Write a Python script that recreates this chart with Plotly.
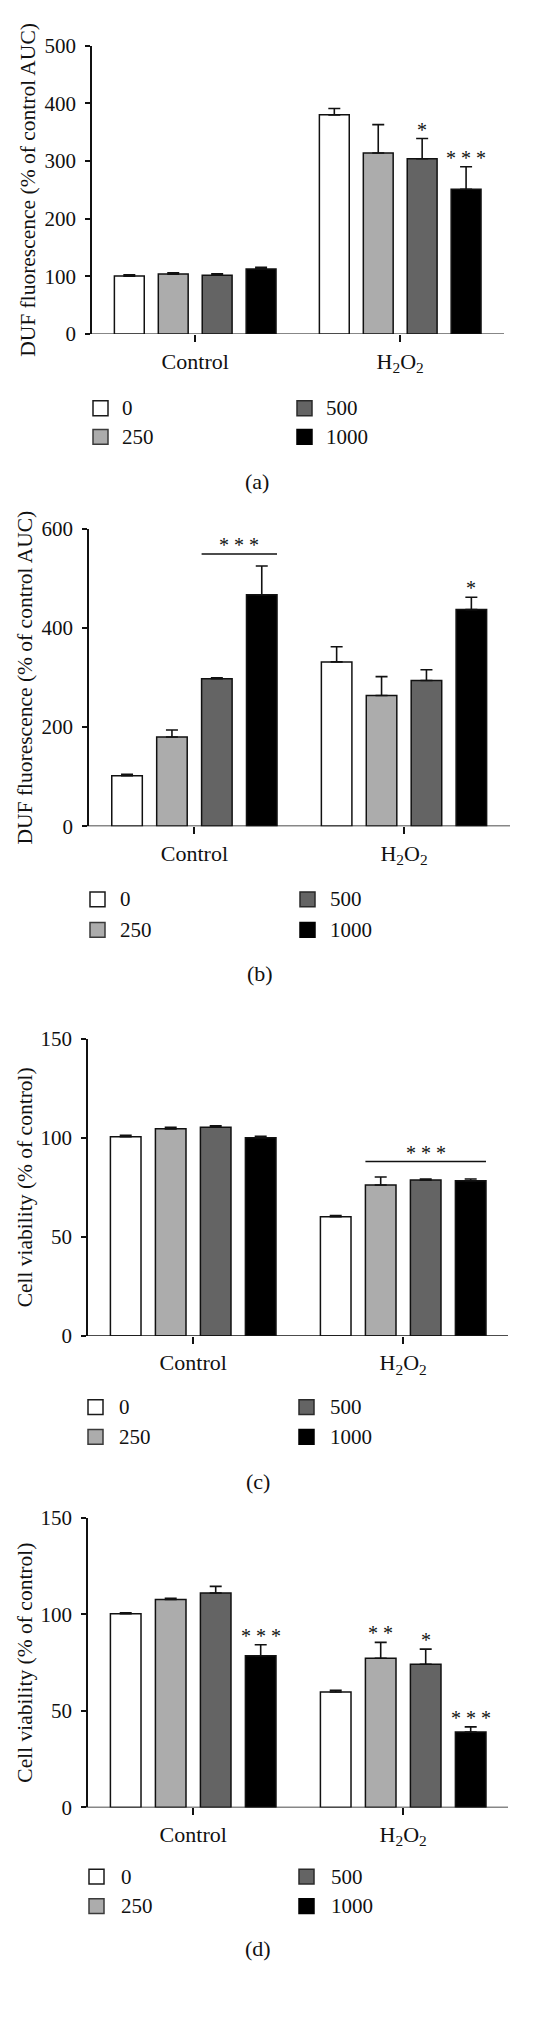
import plotly.graph_objects as go

W, H = 560, 2018
FONT = "Liberation Serif"

groups = ["Control", "H<sub>2</sub>O<sub>2</sub>"]
doses = ["0", "250", "500", "1000"]
colors = ["#ffffff", "#acacac", "#646464", "#000000"]
edge_colors = ["#1a1a1a", "#3a3a3a", "#2a2a2a", "#000000"]

# ---- data (value per group [Control, H2O2]) ----
a_means = [[100.6, 380], [104, 314], [102, 304], [113, 251]]
a_errs = [[2.4, 11], [2.3, 49], [2.6, 35], [3, 39]]

b_means = [[102, 331.5], [180, 263.7], [297.6, 294], [467, 437]]
b_errs = [[2.6, 30.5], [14, 38], [2, 21.6], [58, 25]]

c_means = [[100.5, 60.2], [104.5, 76.2], [105.3, 78.7], [100, 78.3]]
c_errs = [[0.8, 0.6], [0.8, 4], [0.7, 0.5], [0.7, 0.9]]

d_means = [[100.3, 59.8], [107.7, 77.3], [111.1, 74.2], [78.6, 39]]
d_errs = [[0.5, 0.9], [0.6, 8.2], [3.4, 7.8], [5.7, 2.7]]

# significance marks: (group index, dose index, text)
a_marks = [(1, 2, "*"), (1, 3, "* * *")]
b_marks = [(1, 3, "*")]
c_marks = []
d_marks = [(0, 3, "* * *"), (1, 1, "* *"), (1, 2, "*"), (1, 3, "* * *")]
# brackets: (group index, first dose, last dose, y value, text)
b_brackets = [(0, 2, 3, 549, "* * *")]
c_brackets = [(1, 1, 3, 88, "* * *")]
d_brackets = []

y_titles = ["DUF fluorescence (% of control AUC)", "DUF fluorescence (% of control AUC)",
            "Cell viability (% of control)", "Cell viability (% of control)"]
panel_labels = ["(a)", "(b)", "(c)", "(d)"]

# ---- layout geometry (pixels) ----
panels = [
    dict(means=a_means, errs=a_errs, marks=a_marks, brackets=[], ymax=500, dtick=100,
         x0=92, x1=504, ytop=34, ybot=326, c0=195.2, unit=205, title_x=28,
         leg_rows=(401, 430), sq_x=(93, 297), txt_off=27, label_x=257, label_y=475),
    dict(means=b_means, errs=b_errs, marks=b_marks, brackets=b_brackets, ymax=600, dtick=200,
         x0=89, x1=510, ytop=523, ybot=824, c0=194.4, unit=209.6, title_x=25,
         leg_rows=(898, 929), sq_x=(90, 300), txt_off=28, label_x=260, label_y=973),
    dict(means=c_means, errs=c_errs, marks=c_marks, brackets=c_brackets, ymax=150, dtick=50,
         x0=88, x1=508, ytop=1039, ybot=1340, c0=193.2, unit=210, title_x=25,
         leg_rows=(1412, 1442), sq_x=(88, 299), txt_off=29, label_x=258, label_y=1487),
    dict(means=d_means, errs=d_errs, marks=d_marks, brackets=d_brackets, ymax=150, dtick=50,
         x0=88, x1=508, ytop=1524, ybot=1817, c0=193.2, unit=210, title_x=25,
         leg_rows=(1887, 1917), sq_x=(89, 299), txt_off=30, label_x=258, label_y=1960),
]

BARGAP = 0.143
GROUPGAP = 0.32
slot = (1 - BARGAP) / 4
bar_w = slot * (1 - GROUPGAP)


def offset(i):
    return (i - 1.5) * slot


fig = go.Figure()
shapes = []
annotations = []
layout_axes = {}
STAR = dict(family=FONT, size=20, color="#111111")

for p, P in enumerate(panels):
    n = "" if p == 0 else str(p + 1)
    xa, ya = "x" + n, "y" + n
    for i, dose in enumerate(doses):
        fig.add_trace(go.Bar(
            x=groups, y=P["means"][i], name=dose, xaxis=xa, yaxis=ya,
            marker=dict(color=colors[i], line=dict(color="#111111", width=1.5)),
            error_y=dict(type="data", array=P["errs"][i], arrayminus=[0, 0], symmetric=False,
                         color="#111111", thickness=1.6, width=6),
            showlegend=False,
        ))
    r0 = (P["x0"] - P["c0"]) / P["unit"]
    r1 = (P["x1"] - P["c0"]) / P["unit"]
    layout_axes["xaxis" + n] = dict(
        domain=[P["x0"] / W, P["x1"] / W], anchor=ya, type="category",
        categoryorder="array", categoryarray=groups, range=[r0, r1],
        showline=False, showgrid=False, zeroline=False,
        ticks="outside", ticklen=7, tickwidth=1.5, tickcolor="#111111",
        tickfont=dict(family=FONT, size=22, color="#111111"), fixedrange=True,
    )
    layout_axes["yaxis" + n] = dict(
        domain=[1 - P["ybot"] / H, 1 - P["ytop"] / H], anchor=xa,
        range=[0, P["ymax"]], dtick=P["dtick"], tick0=0,
        showline=True, linewidth=1.5, linecolor="#111111",
        showgrid=False, zeroline=False,
        ticks="outside", ticklen=5, tickwidth=1.5, tickcolor="#111111",
        ticklabelstandoff=5,
        tickfont=dict(family=FONT, size=21, color="#111111"), fixedrange=True,
    )
    # baseline (x axis line, extends slightly left of y axis)
    shapes.append(dict(type="line", xref="paper", yref=ya, x0=(P["x0"] - 7) / W, x1=P["x1"] / W,
                       y0=0, y1=0, line=dict(color="#111111", width=1.5)))
    # y title
    annotations.append(dict(text=y_titles[p], xref="paper", yref="paper",
                            x=P["title_x"] / W, y=1 - (P["ytop"] + P["ybot"]) / 2 / H,
                            xanchor="center", yanchor="middle", textangle=-90, showarrow=False,
                            font=dict(family=FONT, size=21.5, color="#111111")))
    # significance marks
    for g, i, txt in P["marks"]:
        annotations.append(dict(text=txt, xref=xa, yref=ya, x=g + offset(i),
                                y=P["means"][i][g] + P["errs"][i][g],
                                xanchor="center", yanchor="bottom", yshift=-4, showarrow=False,
                                font=STAR))
    for g, i0, i1, yv, txt in P["brackets"]:
        xl = g + offset(i0) - bar_w / 2
        xr = g + offset(i1) + bar_w / 2
        shapes.append(dict(type="line", xref=xa, yref=ya, x0=xl, x1=xr, y0=yv, y1=yv,
                           line=dict(color="#111111", width=1.5)))
        annotations.append(dict(text=txt, xref=xa, yref=ya, x=(xl + xr) / 2, y=yv,
                                xanchor="center", yanchor="bottom", yshift=-4, showarrow=False,
                                font=STAR))
    # legend (2 x 2)
    order = [(0, 0, 0), (2, 0, 1), (1, 1, 0), (3, 1, 1)]
    for i, row, col in order:
        cy = P["leg_rows"][row]
        sx = P["sq_x"][col]
        shapes.append(dict(type="rect", xref="paper", yref="paper",
                           x0=sx / W, x1=(sx + 15) / W, y0=1 - (cy + 7.5) / H, y1=1 - (cy - 7.5) / H,
                           fillcolor=colors[i], line=dict(color=edge_colors[i], width=1.5)))
        annotations.append(dict(text=doses[i], xref="paper", yref="paper",
                                x=(sx + P["txt_off"]) / W, y=1 - cy / H, xanchor="left",
                                yanchor="middle", showarrow=False,
                                font=dict(family=FONT, size=21, color="#111111")))
    # panel label
    annotations.append(dict(text=panel_labels[p], xref="paper", yref="paper",
                            x=P["label_x"] / W, y=1 - P["label_y"] / H, xanchor="center",
                            yanchor="middle", showarrow=False,
                            font=dict(family=FONT, size=22, color="#111111")))

fig.update_layout(
    width=W, height=H, margin=dict(l=0, r=0, t=0, b=0),
    paper_bgcolor="white", plot_bgcolor="white",
    barmode="group", bargap=BARGAP, bargroupgap=GROUPGAP,
    font=dict(family=FONT, color="#111111"),
    shapes=shapes, annotations=annotations, showlegend=False,
    **layout_axes,
)

fig.write_html("out.html", config={"displayModeBar": False},
               post_script="document.body.style.margin='0';")
